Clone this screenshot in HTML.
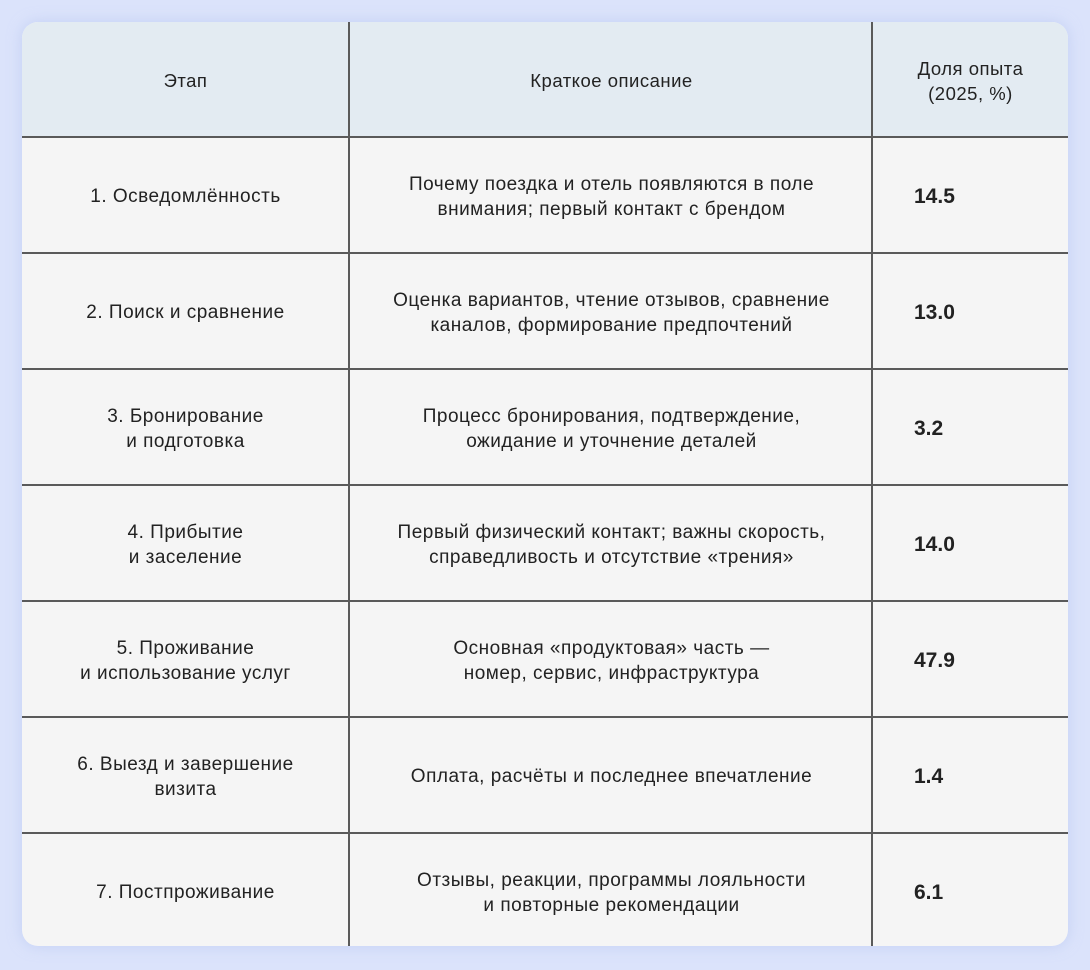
<!DOCTYPE html>
<html><head><meta charset="utf-8"><style>
html,body{margin:0;padding:0}
body{width:1090px;height:970px;background:#dbe3fb;position:relative;overflow:hidden;font-family:"Liberation Sans","DejaVu Sans",sans-serif;color:#222}
.card{position:absolute;left:22px;top:22px;width:1046px;height:924px;background:#f5f5f5;border-radius:16px;overflow:hidden;box-shadow:0 0 14px rgba(180,195,240,.6)}
.hdr{position:absolute;left:0;top:0;width:1046px;height:115px;background:#e3ebf2}
.h{position:absolute;left:0;width:1046px;height:2px;background:#5a5a5a}
.v{position:absolute;top:0;width:2px;height:924px;background:#5a5a5a}
.c{position:absolute;display:flex;align-items:center;justify-content:center;text-align:center;font-size:19px;letter-spacing:.5px;line-height:25px;height:117px}
.c1{left:0;width:327px}
.c2{left:329px;width:521px}
.c3{left:892px;width:150px;justify-content:flex-start;font-weight:bold;font-size:21px;letter-spacing:0}
.hc{font-size:18.5px}
</style></head><body>
<div class="card">
<div class="hdr"></div>
<div class="v" style="left:326px"></div>
<div class="v" style="left:849px"></div>
<div class="h" style="top:114px"></div>
<div class="h" style="top:230px"></div>
<div class="h" style="top:346px"></div>
<div class="h" style="top:462px"></div>
<div class="h" style="top:578px"></div>
<div class="h" style="top:694px"></div>
<div class="h" style="top:810px"></div>

<div class="c c1 hc" style="top:0">Этап</div>
<div class="c c2 hc" style="top:0">Краткое описание</div>
<div class="c hc" style="top:0;left:851px;width:195px">Доля опыта<br>(2025, %)</div>

<div class="c c1" style="top:116px">1. Осведомлённость</div>
<div class="c c2" style="top:116px">Почему поездка и отель появляются в поле<br>внимания; первый контакт с брендом</div>
<div class="c c3" style="top:116px">14.5</div>

<div class="c c1" style="top:232px">2. Поиск и сравнение</div>
<div class="c c2" style="top:232px">Оценка вариантов, чтение отзывов, сравнение<br>каналов, формирование предпочтений</div>
<div class="c c3" style="top:232px">13.0</div>

<div class="c c1" style="top:348px">3. Бронирование<br>и подготовка</div>
<div class="c c2" style="top:348px">Процесс бронирования, подтверждение,<br>ожидание и уточнение деталей</div>
<div class="c c3" style="top:348px">3.2</div>

<div class="c c1" style="top:464px">4. Прибытие<br>и заселение</div>
<div class="c c2" style="top:464px">Первый физический контакт; важны скорость,<br>справедливость и отсутствие «трения»</div>
<div class="c c3" style="top:464px">14.0</div>

<div class="c c1" style="top:580px">5. Проживание<br>и использование услуг</div>
<div class="c c2" style="top:580px">Основная «продуктовая» часть —<br>номер, сервис, инфраструктура</div>
<div class="c c3" style="top:580px">47.9</div>

<div class="c c1" style="top:696px">6. Выезд и завершение<br>визита</div>
<div class="c c2" style="top:696px">Оплата, расчёты и последнее впечатление</div>
<div class="c c3" style="top:696px">1.4</div>

<div class="c c1" style="top:812px">7. Постпроживание</div>
<div class="c c2" style="top:812px">Отзывы, реакции, программы лояльности<br>и повторные рекомендации</div>
<div class="c c3" style="top:812px">6.1</div>
</div>
</body></html>
